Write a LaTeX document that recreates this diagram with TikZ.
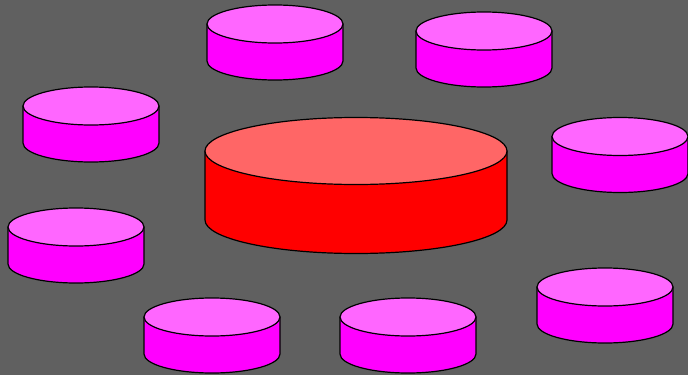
\documentclass[tikz,border=0pt]{standalone}
\usepackage{tikz}
\definecolor{bg}{HTML}{606060}
\definecolor{magtop}{HTML}{FF66FF}
\definecolor{magbody}{HTML}{FF00FF}
\definecolor{redtop}{HTML}{FF6666}
\definecolor{redbody}{HTML}{FF0000}
\tikzset{cylline/.style={draw=black, line width=1.2pt, line join=round}}
% #1 cx, #2 cy (top centre), #3 rx, #4 ry, #5 height, #6 body colour, #7 top colour
\newcommand{\mycyl}[7]{%
  \filldraw[cylline, fill=#6] (#1-#3,#2) -- (#1-#3,#2+#5)
     arc[start angle=180, end angle=0, x radius=#3, y radius=#4]
     -- (#1+#3,#2) -- cycle;
  \filldraw[cylline, fill=#7] (#1,#2) ellipse[x radius=#3, y radius=#4];
}
\begin{document}
\begin{tikzpicture}[x=1pt, y=-1pt]
\fill[bg] (0,0) rectangle (688,375);
\useasboundingbox (0,0) rectangle (688,375);
\mycyl{356}{151}{151}{33.5}{69}{redbody}{redtop}
\mycyl{275}{24}{68}{19}{37}{magbody}{magtop}
\mycyl{484}{31}{68}{19}{37}{magbody}{magtop}
\mycyl{91}{106}{68}{19}{37}{magbody}{magtop}
\mycyl{620}{136.5}{68}{19}{37}{magbody}{magtop}
\mycyl{76}{227}{68}{19}{37}{magbody}{magtop}
\mycyl{605}{287}{68}{19}{37}{magbody}{magtop}
\mycyl{212}{317}{68}{19}{37}{magbody}{magtop}
\mycyl{408}{317}{68}{19}{37}{magbody}{magtop}
\end{tikzpicture}
\end{document}
